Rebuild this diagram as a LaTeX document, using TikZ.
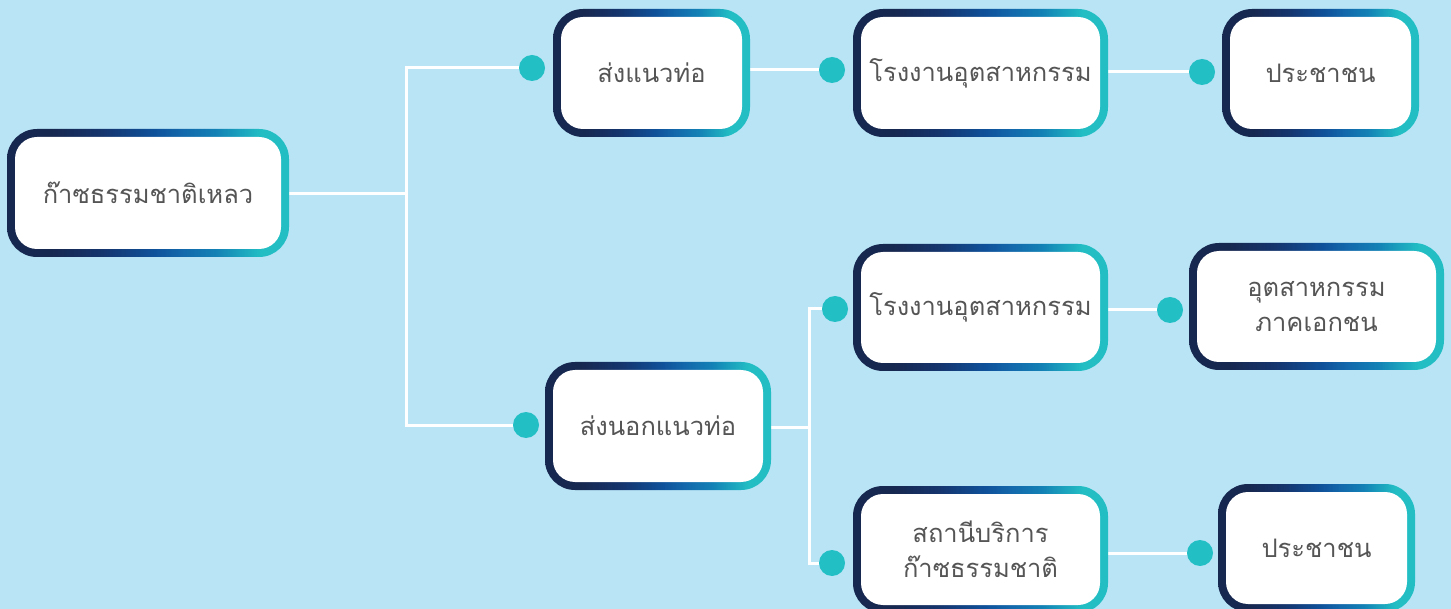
\documentclass[tikz,border=0pt]{standalone}
\usepackage{fontspec}
\newfontfamily\thaifont[Script=Thai]{Loma}
\usetikzlibrary{backgrounds}
\definecolor{bgc}{HTML}{B8E4F6}
\definecolor{gnavy}{HTML}{172850}
\definecolor{gnavyb}{HTML}{15356E}
\definecolor{gblue}{HTML}{0F519A}
\definecolor{gblueb}{HTML}{1368AB}
\definecolor{glblue}{HTML}{1381B5}
\definecolor{gteal}{HTML}{22BEC4}
\definecolor{dotc}{HTML}{22BFC4}
\definecolor{txt}{HTML}{555555}
\pgfdeclarehorizontalshading{bordergrad}{100bp}{%
 color(0bp)=(gnavy); color(25bp)=(gnavy); color(33bp)=(gnavy); color(42bp)=(gnavyb);
 color(51bp)=(gblue); color(56bp)=(gblueb); color(62bp)=(glblue); color(70bp)=(gteal); color(100bp)=(gteal)}
\tikzset{
  boxin/.style={fill=white, rounded corners=22pt, inner sep=0pt, align=center,
    text=txt, font=\thaifont\fontsize{25.5}{35}\selectfont},
  dot/.style={circle, fill=dotc, minimum size=26pt, inner sep=0pt},
  conn/.style={white, line width=3pt}
}
% name, x1, y1, x2, y2, text
\newcommand\gradbox[6]{%
  \shade[shading=bordergrad, rounded corners=30pt] (#2,#3) rectangle (#4,#5);
  \node[boxin, minimum width={(#4-#2-16)*1pt}, minimum height={(#5-#3-16)*1pt}]
    (#1) at ({(#2+#4)/2},{(#3+#5)/2}) {#6};}
\begin{document}
\begin{tikzpicture}[x=1pt,y=-1pt]
\useasboundingbox (0,0) rectangle (1451,609);
\begin{scope}[on background layer]
\fill[bgc] (0,0) rectangle (1451,609);
\end{scope}
\clip (0,0) rectangle (1451,609);
\gradbox{root}{7}{129}{289}{257}{ก๊าซธรรมชาติเหลว}
\gradbox{b1}{553}{9}{750}{137}{ส่งแนวท่อ}
\gradbox{f1}{853}{9}{1108}{137}{โรงงานอุตสาหกรรม}
\gradbox{p1}{1222}{9}{1419}{137}{ประชาชน}
\gradbox{f2}{853}{244}{1108}{371}{โรงงานอุตสาหกรรม}
\gradbox{i1}{1189}{243}{1444}{370}{อุตสาหกรรม\\ภาคเอกชน}
\gradbox{b2}{545}{362}{771}{490}{ส่งนอกแนวท่อ}
\gradbox{s1}{853}{486}{1108}{613}{สถานีบริการ\\ก๊าซธรรมชาติ}
\gradbox{p2}{1218}{484}{1415}{612}{ประชาชน}
\node[dot] (d1) at (532,68) {};
\node[dot] (d2) at (526,425) {};
\node[dot] (d3) at (832,70) {};
\node[dot] (d4) at (1202,72) {};
\node[dot] (d5) at (835,309) {};
\node[dot] (d6) at (832,563) {};
\node[dot] (d7) at (1170,310) {};
\node[dot] (d8) at (1200,553) {};
\coordinate (j1) at (406,194);
\coordinate (j2) at (809,427);
\begin{scope}[on background layer]
\draw[conn] (root.east |- j1) -- (j1) |- (d1);
\draw[conn] (j1) |- (d2);
\draw[conn] (d3) -- (d3 -| b1.east);
\draw[conn] (d4) -- (d4 -| f1.east);
\draw[conn] (b2.east |- j2) -- (j2) |- (d5);
\draw[conn] (j2) |- (d6);
\draw[conn] (d7) -- (d7 -| f2.east);
\draw[conn] (d8) -- (d8 -| s1.east);
\end{scope}
\end{tikzpicture}
\end{document}
